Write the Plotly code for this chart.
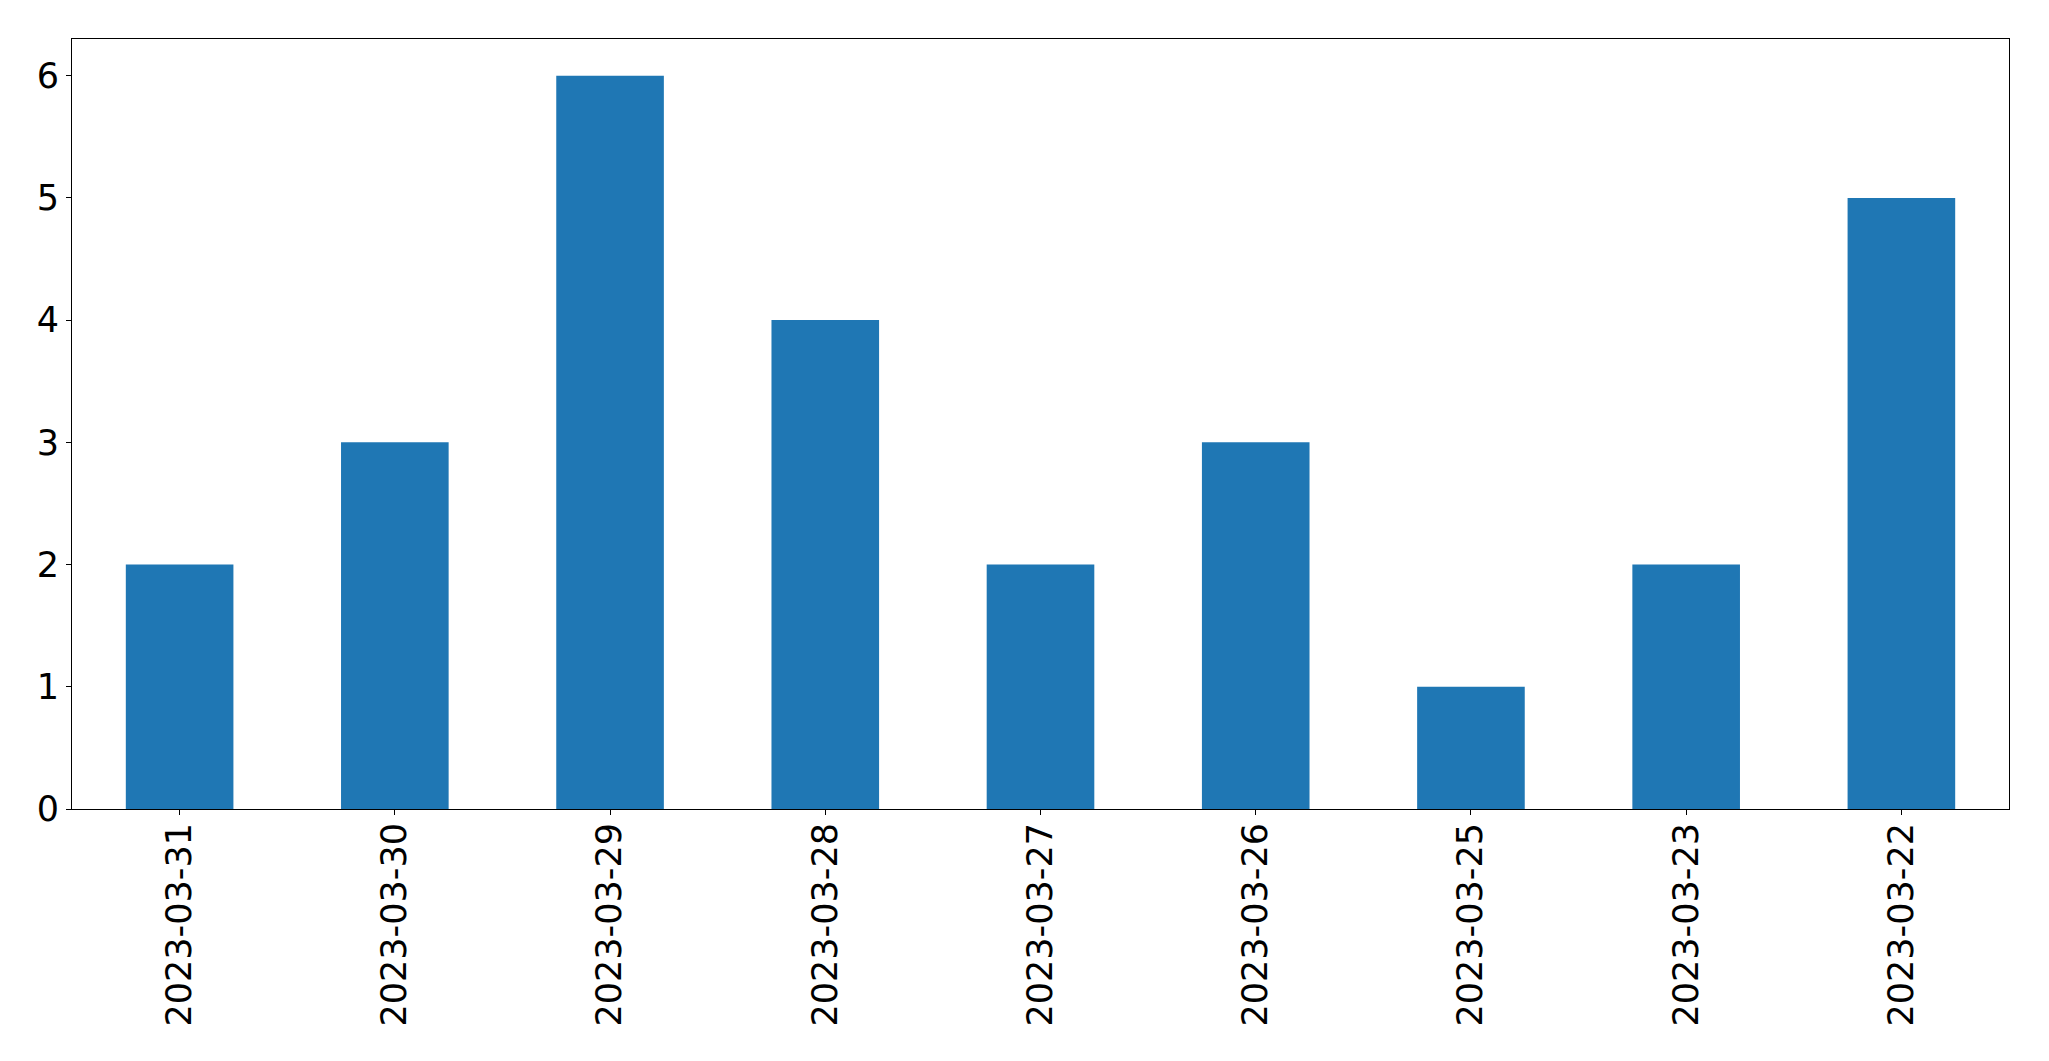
import plotly.graph_objects as go

dates = ["2023-03-31", "2023-03-30", "2023-03-29", "2023-03-28", "2023-03-27",
         "2023-03-26", "2023-03-25", "2023-03-23", "2023-03-22"]
counts = [2, 3, 6, 4, 2, 3, 1, 2, 5]

fig = go.Figure(go.Bar(x=dates, y=counts, marker_color="#1f77b4", marker_line_width=0, width=0.5))

axis_common = dict(
    showline=True, linecolor="black", linewidth=1.1, mirror=True,
    ticks="outside", ticklen=5, tickwidth=1.1, tickcolor="black",
    showgrid=False, zeroline=False,
    tickfont=dict(family="DejaVu Sans", size=35, color="black"),
)

fig.update_layout(
    width=2041, height=1053,
    margin=dict(l=64, r=40, t=31, b=252, autoexpand=False),
    plot_bgcolor="white", paper_bgcolor="white",
    showlegend=False,
    xaxis=dict(type="category", range=[-0.5, 8.5], tickangle=-90,
               ticklabelstandoff=-6, **axis_common),
    yaxis=dict(range=[0, 6.3], tickvals=[0, 1, 2, 3, 4, 5, 6], **axis_common),
    bargap=0.5,
)

fig.write_html("out.html")
